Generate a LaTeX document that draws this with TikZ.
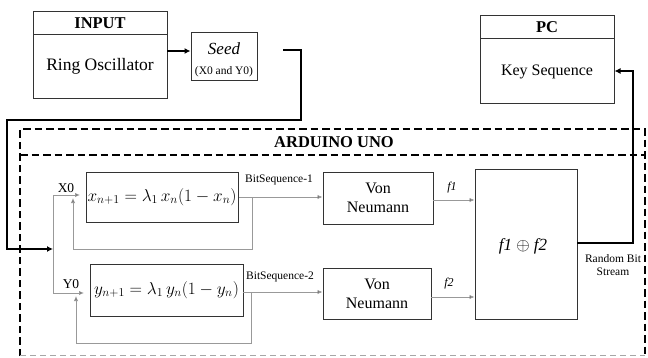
\documentclass[tikz,border=0pt]{standalone}
\usepackage{fontspec}
\setmainfont{Liberation Serif}
\usetikzlibrary{arrows.meta,calc}
\tikzset{
  box/.style={draw=black!80, line width=1pt, inner sep=0pt},
  thin/.style={draw=black!40, line width=0.9pt},
  thinarr/.style={thin, -{Latex[length=5pt,width=4.5pt,fill=black]}},
  thick/.style={draw=black, line width=2.8pt},
  thickarr/.style={thick, -{Latex[length=6pt,width=6pt]}},
  frame/.style={draw=black, line width=2.6pt, dash pattern=on 7.5pt off 4pt},
  txt/.style={inner sep=0pt, font=\fontsize{16}{18}\selectfont},
  btxt/.style={inner sep=0pt, font=\fontsize{16.5}{18}\selectfont\bfseries},
  stxt/.style={inner sep=0pt, font=\fontsize{11.5}{13}\selectfont},
}
\begin{document}
\begin{tikzpicture}[x=1pt,y=-1pt]
\useasboundingbox (0,0) rectangle (648,357);
% Arduino frame
\draw[frame] (20,356) -- (20,129) -- (645,129) -- (645,357);
\draw[frame] (20,155) -- (645,155);
\draw[draw=black!35, line width=1pt, dash pattern=on 6pt off 4pt] (20,355.5) -- (645,355.5);
\node[btxt] (ard) at (334,142) {ARDUINO UNO};
% INPUT
\node[box, minimum width=134pt, minimum height=87pt] (in) at (100,54.5) {};
\draw[box] (33,34) -- (167,34);
\node[btxt] (inT) at (100,23) {INPUT};
\node[txt, font=\fontsize{17.5}{20}\selectfont] (inB) at (100,66) {Ring Oscillator};
% Seed
\node[box, minimum width=66pt, minimum height=48pt] (seed) at (224,56) {};
\node[txt, font=\fontsize{17}{20}\selectfont\itshape] (seedT) at (224,49) {Seed};
\node[stxt] (seedB) at (224,71.5) {(X0 and Y0)};
% PC
\node[box, minimum width=134pt, minimum height=88pt] (pc) at (547,59) {};
\draw[box] (480,38) -- (614,38);
\node[btxt] (pcT) at (547,27) {PC};
\node[txt] (pcB) at (547,72) {Key Sequence};
% inner boxes
\node[box, minimum width=152pt, minimum height=50pt] (xb) at (162,197)
  {\fontsize{16.5}{18}\selectfont$x_{n+1} = \lambda_1\, x_n(1 - x_n)$};
\node[box, minimum width=153pt, minimum height=52pt] (yb) at (166.5,290)
  {\fontsize{16.5}{18}\selectfont$y_{n+1} = \lambda_1\, y_n(1 - y_n)$};
\node[box, minimum width=110pt, minimum height=52pt, align=center, font=\fontsize{16}{19}\selectfont] (vn1) at (378,198) {Von\\Neumann};
\node[box, minimum width=108pt, minimum height=51pt, align=center, font=\fontsize{16}{19}\selectfont] (vn2) at (377,293.5) {Von\\Neumann};
\node[box, minimum width=102pt, minimum height=150pt] (xor) at (526,244) {};
\node[txt, font=\fontsize{17}{20}\selectfont] (xorT) at (523,246) {\textit{f1} $\oplus$ \textit{f2}};
% thick connectors
\coordinate (a1) at (167,51);
\draw[thickarr] (a1) -- (a1 -| seed.west);
\coordinate (s0) at (283,50);
\coordinate (split) at (53,249);
\draw[thickarr] (s0) -- (301,50) -- (301,120) -- (7,120) -- (7,249) -- (split);
\coordinate (r0) at (577,243);
\coordinate (r1) at (633,71);
\draw[thickarr] (r0) -- (r0 -| r1) -- (r1) -- (r1 -| pc.east);
\node[stxt, align=center] (rbs) at (613,265) {Random Bit\\Stream};
% thin distribution lines
\coordinate (x0) at (53,195);
\coordinate (y0) at (53,293);
\draw[thin] (x0) -- (y0);
\draw[thinarr] (x0) -- (80,195);
\draw[thinarr] (y0) -- (84,293);
\node[inner sep=0pt, font=\fontsize{13.5}{15}\selectfont] (x0l) at (66,188) {X0};
\node[inner sep=0pt, font=\fontsize{13.5}{15}\selectfont] (y0l) at (71,284) {Y0};
% bit sequences
\draw[thinarr] (xb.east) -- (xb.east -| vn1.west);
\node[stxt] (bs1) at (279,180) {BitSequence-1};
\coordinate (yout) at (243,292);
\draw[thinarr] (yout) -- (yout -| vn2.west);
\node[stxt] (bs2) at (280,277) {BitSequence-2};
% feedback loops
\draw[thinarr] (252,197) -- (252,249) -- (73,249) -- (73,198);
\draw[thinarr] (251,292) -- (251,343) -- (76,343) -- (76,296);
% f1 f2
\coordinate (f1s) at (433,200);
\draw[thinarr] (f1s) -- (f1s -| xor.west);
\node[stxt, font=\fontsize{12}{14}\selectfont\itshape] (f1l) at (452,188) {f1};
\coordinate (f2s) at (431,297);
\draw[thinarr] (f2s) -- (f2s -| xor.west);
\node[stxt, font=\fontsize{12}{14}\selectfont\itshape] (f2l) at (449,284) {f2};
\end{tikzpicture}
\end{document}
